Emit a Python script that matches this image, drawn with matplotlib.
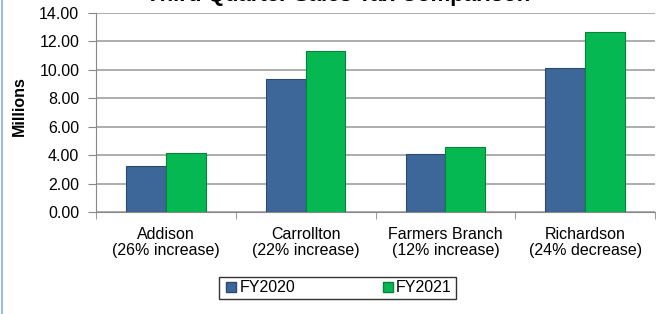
import numpy as np
import matplotlib
matplotlib.use("Agg")
import matplotlib.pyplot as plt
from matplotlib.lines import Line2D

plt.rcParams['font.family'] = ['Liberation Sans', 'DejaVu Sans']

# data
categories = ["Addison\n(26% increase)", "Carrollton\n(22% increase)",
              "Farmers Branch\n(12% increase)", "Richardson\n(24% decrease)"]
fy2020 = [3.26, 9.34, 4.08, 10.14]
fy2021 = [4.13, 11.33, 4.55, 12.65]
series_names = ["FY2020", "FY2021"]
yticks = [0, 2, 4, 6, 8, 10, 12, 14]

blue = "#3D6799"
green = "#06B852"
fs = 11.5

fig = plt.figure(figsize=6.58 * np.array([1, 314 / 658]), dpi=100)
ax = fig.add_axes([96 / 658, 1 - 212 / 314, 559 / 658, 199 / 314])

x = np.arange(len(categories))
w = 0.285
ax.bar(x - w / 2, fy2020, w, color=blue, edgecolor="#2B4A70", linewidth=0.8, zorder=3)
ax.bar(x + w / 2, fy2021, w, color=green, edgecolor="#04843B", linewidth=0.8, zorder=3)

ax.set_xlim(-0.5, len(categories) - 0.5)
ax.set_ylim(0, 14)
ax.set_yticks(yticks)
ax.set_yticklabels(["%.2f" % v for v in yticks], fontsize=fs)
ax.yaxis.grid(True, color="#A0A0A0", linewidth=1.2, zorder=0)
ax.set_xticks(x)
ax.set_xticklabels(categories, fontsize=fs, linespacing=1.1)
ax.tick_params(axis="x", length=0, pad=11)
ax.tick_params(axis="y", length=6, color="#888888", pad=6)
# category boundary ticks on the bottom axis
ax.set_xticks(np.arange(-0.5, len(categories) + 0.5, 1), minor=True)
ax.tick_params(axis="x", which="minor", length=5, color="#888888")

for s in ["top", "right"]:
    ax.spines[s].set_visible(False)
ax.spines["left"].set_color("#888888")
ax.spines["bottom"].set_color("#888888")

ax.set_ylabel("Millions", fontsize=fs, fontweight="bold")
ax.yaxis.set_label_coords(-0.123, 0.53)

# title sits mostly above the top edge, as in the reference
fig.text(338 / 658, 1 - 0.5 / 314, "Third Quarter Sales Tax Comparison", fontsize=16,
         fontweight="bold", ha="center", va="baseline")

handles = [Line2D([], [], marker="s", linestyle="none", markersize=7,
                  markerfacecolor=c, markeredgecolor=e)
           for c, e in [(blue, "#2B4A70"), (green, "#04843B")]]
leg = fig.legend(handles, series_names, loc="center", ncol=2,
                 bbox_to_anchor=(337.5 / 658, 1 - 288 / 314), fontsize=fs,
                 frameon=True, fancybox=False, edgecolor="black",
                 handletextpad=0.0, columnspacing=5.3, borderpad=0.25,
                 handlelength=1.0)
leg.get_frame().set_linewidth(1.0)

fig.add_artist(Line2D([0.003, 0.003], [0, 1], color="#9DBBE0", linewidth=1.5,
                      transform=fig.transFigure))

fig.savefig("out.png", dpi=100)
